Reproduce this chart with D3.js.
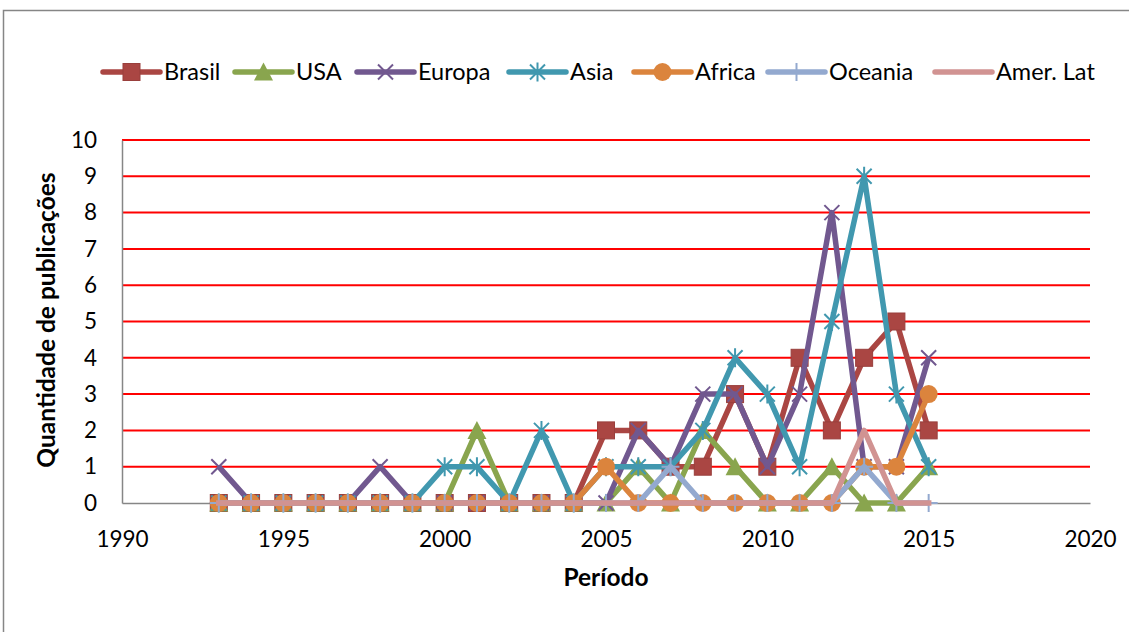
<!DOCTYPE html>
<html>
<head>
<meta charset="utf-8">
<script src="https://cdn.jsdelivr.net/npm/d3@7"></script>
<style>
  html, body { margin: 0; padding: 0; background: #fff; }
  svg { display: block; font-family: Lato, "Open Sans", sans-serif; }
</style>
</head>
<body>
<svg id="chart" width="1129" height="632"></svg>
<script>
// ---- data ----
const years = [1993, 1994, 1995, 1996, 1997, 1998, 1999, 2000, 2001, 2002, 2003, 2004,
               2005, 2006, 2007, 2008, 2009, 2010, 2011, 2012, 2013, 2014, 2015];
const brasil  = [0,0,0,0,0,0,0,0,0,0,0,0, 2,2,1,1,3,1,4,2,4,5,2];
const usa     = [0,0,0,0,0,0,0,0,2,0,0,0, 0,1,0,2,1,0,0,1,0,0,1];
const europa  = [1,0,0,0,0,1,0,0,0,0,0,0, 0,2,1,3,3,1,3,8,1,1,4];
const asia    = [0,0,0,0,0,0,0,1,1,0,2,0, 1,1,1,2,4,3,1,5,9,3,1];
const africa  = [0,0,0,0,0,0,0,0,0,0,0,0, 1,0,0,0,0,0,0,0,1,1,3];
const oceania = [0,0,0,0,0,0,0,0,0,0,0,0, 0,0,1,0,0,0,0,0,1,0,0];
const amerLat = [0,0,0,0,0,0,0,0,0,0,0,0, 0,0,0,0,0,0,0,0,2,0,0];
const seriesNames = ["Brasil", "USA", "Europa", "Asia", "Africa", "Oceania", "Amer. Lat"];
const xTicks = [1990, 1995, 2000, 2005, 2010, 2015, 2020];
const yTicks = [0, 1, 2, 3, 4, 5, 6, 7, 8, 9, 10];
const xTitle = "Período";
const yTitle = "Quantidade de publicações";

// ---- styles ----
const colors  = ["#AA4643", "#89A54E", "#71588F", "#4198AF", "#DB843D", "#93A9CF", "#D19392"];
const markers = ["square", "triangle", "x", "asterisk", "circle", "plus", "none"];
const legendX = [103, 235, 357, 509, 634, 768, 935];

const seriesValues = [brasil, usa, europa, asia, africa, oceania, amerLat];
const series = seriesNames.map((name, i) => ({
  name, color: colors[i], marker: markers[i],
  points: years.map((yr, j) => ({ x: yr, y: seriesValues[i][j] }))
}));

const svg = d3.select("#chart");
const x = d3.scaleLinear().domain([1990, 2020]).range([122, 1090]);
const y = d3.scaleLinear().domain([0, 10]).range([503, 140]);

// outer frame
svg.append("rect").attr("x", 3.5).attr("y", 10.5).attr("width", 1140).attr("height", 640)
  .attr("fill", "none").attr("stroke", "#868686").attr("stroke-width", 1.5);

// gridlines
svg.append("g").selectAll("line").data(yTicks.filter(d => d > 0)).join("line")
  .attr("x1", x(1990)).attr("x2", x(2020))
  .attr("y1", d => y(d)).attr("y2", d => y(d))
  .attr("stroke", "#FF0000").attr("stroke-width", 2);

// axes
const xAxis = svg.append("g").attr("transform", `translate(0,${y(0)})`)
  .call(d3.axisBottom(x).tickValues(xTicks).tickFormat(d3.format("d")).tickSize(0).tickPadding(28));
const yAxis = svg.append("g").attr("transform", `translate(${x(1990)},0)`)
  .call(d3.axisLeft(y).tickValues(yTicks).tickSize(0).tickPadding(25));
[xAxis, yAxis].forEach(g => {
  g.select(".domain").attr("stroke", "#868686").attr("stroke-width", 1.5);
  g.selectAll("text").attr("font-size", 22.5).attr("fill", "#000").attr("font-family", "Lato, sans-serif");
});

// titles
svg.append("text").attr("x", 606).attr("y", 586).attr("text-anchor", "middle")
  .attr("font-size", 24.5).attr("font-weight", "bold").text(xTitle);
svg.append("text").attr("transform", "translate(55,320) rotate(-90)").attr("text-anchor", "middle")
  .attr("font-size", 24.5).attr("font-weight", "bold").text(yTitle);

// marker drawing
function drawMarker(g, type, color) {
  const s = 8.5;
  if (type === "square") {
    g.append("rect").attr("x", -s).attr("y", -s).attr("width", 2 * s).attr("height", 2 * s)
      .attr("fill", color).attr("stroke", d3.color(color).darker(0.3)).attr("stroke-width", 1);
  } else if (type === "triangle") {
    g.append("path").attr("d", `M0,${-s - 1}L${s + 1},${s}L${-s - 1},${s}Z`).attr("fill", color);
  } else if (type === "circle") {
    g.append("circle").attr("r", s + 0.5).attr("fill", color);
  } else if (type === "x" || type === "asterisk") {
    const t = 7.5;
    g.append("path").attr("d", `M${-t},${-t}L${t},${t}M${-t},${t}L${t},${-t}` + (type === "asterisk" ? `M0,${-t - 2}L0,${t + 2}` : ""))
      .attr("stroke", color).attr("stroke-width", 2).attr("fill", "none");
  } else if (type === "plus") {
    const t = 9;
    g.append("path").attr("d", `M0,${-t}L0,${t}M${-t},0L${t},0`)
      .attr("stroke", color).attr("stroke-width", 2).attr("fill", "none");
  }
}

// series
const line = d3.line().x(d => x(d.x)).y(d => y(d.y));
series.forEach(s => {
  const g = svg.append("g");
  g.append("path").datum(s.points).attr("d", line)
    .attr("fill", "none").attr("stroke", s.color).attr("stroke-width", 5.5)
    .attr("stroke-linejoin", "round").attr("stroke-linecap", s.marker === "none" ? "square" : "butt");
  if (s.marker !== "none") {
    g.selectAll("g.m").data(s.points).join("g").attr("class", "m")
      .attr("transform", d => `translate(${x(d.x)},${y(d.y)})`)
      .each(function () { drawMarker(d3.select(this), s.marker, s.color); });
  }
});

// legend
const legY = 72;
series.forEach((s, i) => {
  const g = svg.append("g").attr("transform", `translate(${legendX[i]},${legY})`);
  g.append("line").attr("x1", 0).attr("x2", 57).attr("y1", 0).attr("y2", 0)
    .attr("stroke", s.color).attr("stroke-width", 5.5).attr("stroke-linecap", "round");
  if (s.marker !== "none") {
    const mg = g.append("g").attr("transform", "translate(28.5,0)");
    drawMarker(mg, s.marker, s.color);
  }
  g.append("text").attr("x", 61).attr("y", 0).attr("dy", "0.35em")
    .attr("font-size", 23.5).attr("fill", "#000").text(s.name);
});
</script>
</body>
</html>
